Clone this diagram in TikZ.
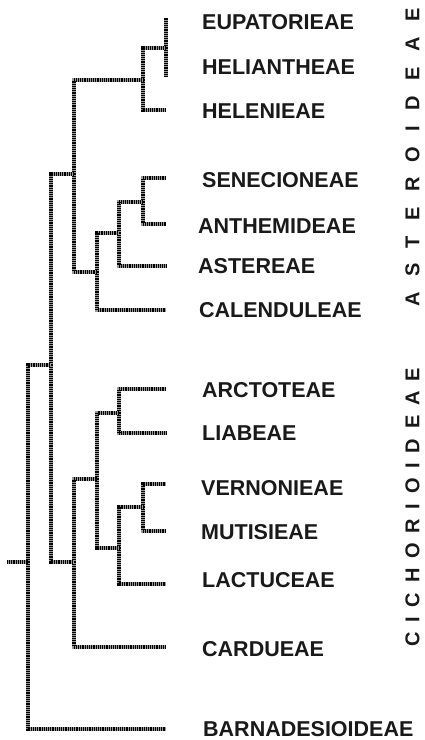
\documentclass[tikz,border=0pt]{standalone}
\usepackage{fontspec}
\setmainfont{Liberation Sans}
\begin{document}
\begin{tikzpicture}[x=1pt,y=1pt,
  tree/.style={line width=3.1pt, black!40, postaction={draw, black, dash pattern=on 1pt off 0.85pt}},
  taxon/.style={anchor=west, inner sep=0pt, text=black!90, font=\fontsize{21.5}{24}\selectfont\bfseries},
  vletter/.style={rotate=90, anchor=west, inner sep=0pt, text=black!90, font=\fontsize{20}{24}\selectfont\bfseries}]
\useasboundingbox (0,0) rectangle (425,-740);
% tips
\coordinate (eup) at (166,-18);
\coordinate (hea) at (166,-77);
\coordinate (hel) at (166,-110);
\coordinate (sen) at (166,-178);
\coordinate (ant) at (166,-224);
\coordinate (ast) at (166,-266);
\coordinate (cal) at (166,-310);
\coordinate (arc) at (166,-389);
\coordinate (lia) at (166,-433);
\coordinate (ver) at (166,-484);
\coordinate (mut) at (166,-531);
\coordinate (lac) at (166,-584);
\coordinate (car) at (166,-647);
\coordinate (bar) at (166,-729);
% internal nodes
\coordinate (n1) at (166,-48);
\coordinate (n2) at (143,-80);
\coordinate (n3) at (143,-202);
\coordinate (n4) at (119,-233);
\coordinate (n5) at (97,-272);
\coordinate (n6) at (74,-174);
\coordinate (n7) at (119,-413);
\coordinate (n8) at (143,-507);
\coordinate (n9) at (119,-548);
\coordinate (n10) at (97,-479);
\coordinate (n11) at (74,-562);
\coordinate (n12) at (51,-365);
\coordinate (n13) at (28,-562);
\coordinate (root) at (7,-562);
% branches
\draw[tree] (n1) -- (eup);
\draw[tree] (n1) -- (hea);
\draw[tree] (n2) |- (n1);
\draw[tree] (n2) |- (hel);
\draw[tree] (n3) |- (sen);
\draw[tree] (n3) |- (ant);
\draw[tree] (n4) |- (n3);
\draw[tree] (n4) |- (ast);
\draw[tree] (n5) |- (n4);
\draw[tree] (n5) |- (cal);
\draw[tree] (n6) |- (n2);
\draw[tree] (n6) |- (n5);
\draw[tree] (n7) |- (arc);
\draw[tree] (n7) |- (lia);
\draw[tree] (n8) |- (ver);
\draw[tree] (n8) |- (mut);
\draw[tree] (n9) |- (n8);
\draw[tree] (n9) |- (lac);
\draw[tree] (n10) |- (n7);
\draw[tree] (n10) |- (n9);
\draw[tree] (n11) |- (n10);
\draw[tree] (n11) |- (car);
\draw[tree] (n12) |- (n6);
\draw[tree] (n12) |- (n11);
\draw[tree] (n13) |- (n12);
\draw[tree] (n13) |- (bar);
\draw[tree] (root) -- (n13);
% labels
\node[taxon] (Leup) at (202,-22) {EUPATORIEAE};
\node[taxon] (Lhea) at (202,-67) {HELIANTHEAE};
\node[taxon] (Lhel) at (202,-111.5) {HELENIEAE};
\node[taxon] (Lsen) at (202,-180) {SENECIONEAE};
\node[taxon] (Lant) at (198,-226) {ANTHEMIDEAE};
\node[taxon] (Last) at (198,-266) {ASTEREAE};
\node[taxon] (Lcal) at (199,-310) {CALENDULEAE};
\node[taxon] (Larc) at (202,-390) {ARCTOTEAE};
\node[taxon] (Llia) at (202,-433) {LIABEAE};
\node[taxon] (Lver) at (201,-488) {VERNONIEAE};
\node[taxon] (Lmut) at (201,-532) {MUTISIEAE};
\node[taxon] (Llac) at (202,-580) {LACTUCEAE};
\node[taxon] (Lcar) at (202,-649) {CARDUEAE};
\node[taxon] (Lbar) at (203,-729) {BARNADESIOIDEAE};
% subfamily labels
\node[vletter] (a1) at (412.5,-307) {A};
\foreach \l [count=\i from 2] in {S,T,E,R,O,I,D,E,A,E} {
  \pgfmathtruncatemacro\j{\i-1}
  \node[vletter] (a\i) at ([yshift=15pt]a\j.east) {\l};
}
\node[vletter] (c1) at (412.5,-647) {C};
\foreach \l [count=\i from 2] in {I,C,H,O,R,I,O,I,D,E,A,E} {
  \pgfmathtruncatemacro\j{\i-1}
  \node[vletter] (c\i) at ([yshift=9.4pt]c\j.east) {\l};
}
\end{tikzpicture}
\end{document}
